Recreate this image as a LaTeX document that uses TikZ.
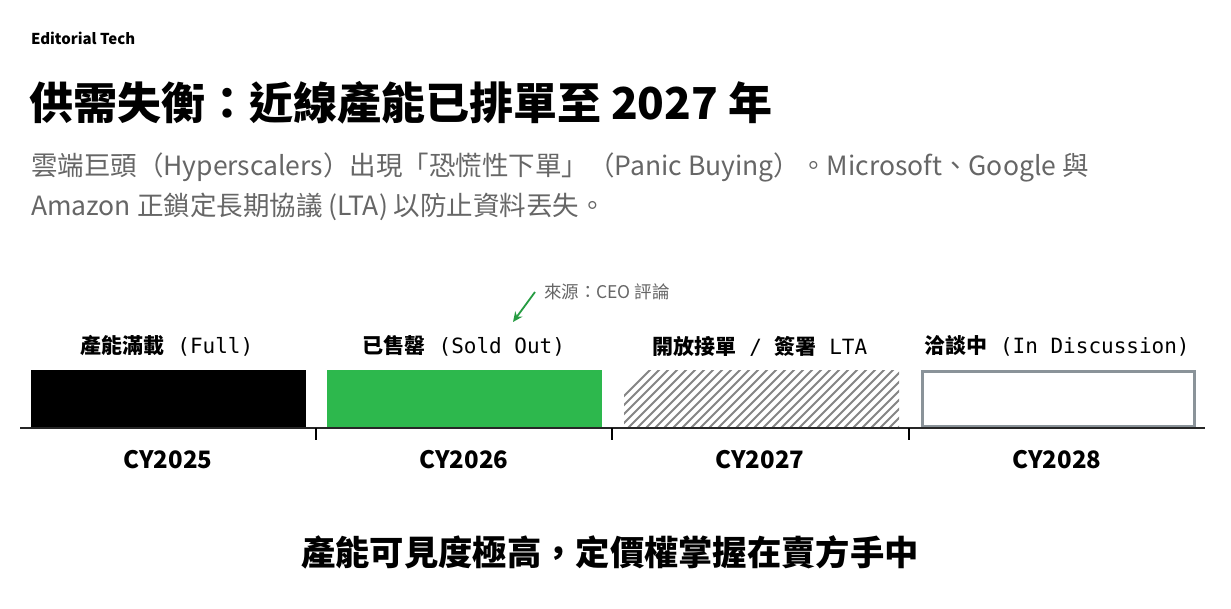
\documentclass[tikz,border=0pt]{standalone}
\usepackage{fontspec}
\setmainfont{Noto Sans CJK TC}
\setmonofont{DejaVu Sans Mono}
\usetikzlibrary{arrows.meta}
\definecolor{subgrey}{HTML}{666666}
\definecolor{bargreen}{HTML}{2DB84D}
\definecolor{boxgrey}{HTML}{8A9399}
\definecolor{hatchgrey}{HTML}{858585}
\newcommand{\monopart}[1]{{\mdseries\ttfamily #1}}
\begin{document}
\begin{tikzpicture}[x=1pt,y=-1pt,
  every node/.style={inner sep=0pt,outer sep=0pt},
  brand/.style={font=\fontsize{15}{18}\selectfont\bfseries,anchor=west},
  titletext/.style={font=\fontsize{44}{52}\selectfont\bfseries,anchor=west},
  subtext/.style={font=\fontsize{26.5}{40}\selectfont,text=subgrey,anchor=west},
  cat/.style={font=\fontsize{21}{24}\selectfont\bfseries},
  year/.style={font=\fontsize{24}{28}\selectfont\bfseries},
  bar/.style={minimum width=275pt,minimum height=58pt,anchor=north west},
  tick/.style={line width=1.5pt,black}
]
\useasboundingbox[fill=white] (0,0) rectangle (1231,609);
\node[brand] (brand) at (31,38) {Editorial Tech};
\node[titletext] (title) at (29,103) {供需失衡：近線產能已排單至 2027 年};
\node[subtext] (sub1) at (31,167) {雲端巨頭（Hyperscalers）出現「恐慌性下單」（Panic Buying）。Microsoft、Google 與};
\node[subtext] (sub2) at (31,207) {Amazon 正鎖定長期協議 (LTA) 以防止資料丟失。};

% bars
\node[bar,fill=black] (b1) at (31,370) {};
\node[bar,fill=bargreen] (b2) at (327,370) {};
\node[bar] (b3) at (624,370) {};
\begin{scope}
  \clip (624,370) rectangle (899,428);
  \foreach \i in {0,...,40} {
    \draw[hatchgrey,line width=1.8pt] ({590+9*\i},430) -- ({652+9*\i},368);
  }
\end{scope}
\node[bar,draw=boxgrey,line width=2.5pt,minimum width=272pt,minimum height=55pt] (b4) at (922.5,371.5) {};

% axis
\coordinate (axl) at (20,428);
\coordinate (axr) at (1205,428);
\draw[line width=1.6pt,black!85] (axl) -- (axr);
\foreach \x/\n in {316/t1,612/t2,909/t3} {
  \coordinate (\n) at (\x,428);
  \draw[tick] (\n) -- ++(0,12);
}

% category labels
\node[cat] (c1) at (167,346) {產能滿載\monopart{ (Full)}};
\node[cat] (c2) at (464,346) {已售罄\monopart{ (Sold Out)}};
\node[cat] (c3) at (760,346) {開放接單\monopart{ / }簽署\monopart{ LTA}};
\node[cat] (c4) at (1057,346) {洽談中\monopart{ (In Discussion)}};

% source note + arrow
\node[font=\fontsize{17.5}{20}\selectfont,text=subgrey,anchor=west] (src) at (544,292) {來源：CEO 評論};
\draw[bargreen!85!black,line width=1.8pt,-{Stealth[length=10pt,width=9pt]}] (src.west) ++(-9,0) -- (513,322);

% years
\node[year] (y1) at (168,460) {CY2025};
\node[year] (y2) at (464,460) {CY2026};
\node[year] (y3) at (760,460) {CY2027};
\node[year] (y4) at (1057,460) {CY2028};

\node[font=\fontsize{34.3}{40}\selectfont\bfseries] (concl) at (610,552) {產能可見度極高，定價權掌握在賣方手中};
\end{tikzpicture}
\end{document}
